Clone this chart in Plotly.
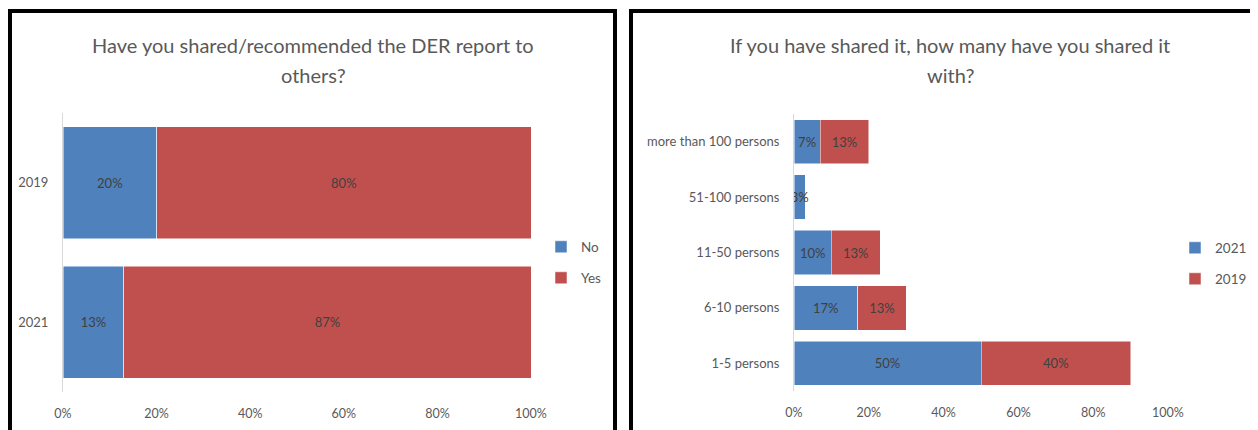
import plotly.graph_objects as go

# ---- data ----
years = ["2021", "2019"]                 # bottom to top
no_vals = [0.13, 0.20]
yes_vals = [0.87, 0.80]

groups = ["1-5 persons", "6-10 persons", "11-50 persons", "51-100 persons", "more than 100 persons"]
v2021 = [0.50, 0.17, 0.10, 0.03, 0.07]
v2019 = [0.40, 0.13, 0.13, None, 0.13]

title_left = ["Have you shared/recommended the DER report to", "others?"]
title_right = ["If you have shared it, how many have you shared it", "with?"]
xticks = [0, 0.2, 0.4, 0.6, 0.8, 1.0]
xticktext = ["0%", "20%", "40%", "60%", "80%", "100%"]

BLUE = "#4F81BD"
RED = "#C0504D"
GREY = "#595959"
LBL = "#404040"
FONT = "Lato, sans-serif"
OFF = 8                      # page body margin
W, H = 1258 - OFF, 430 - OFF


def pct(vals):
    return ["" if v is None else f"{round(v*100)}%" for v in vals]


def px(x):
    return (x - OFF) / W


def py(y):
    return 1 - (y - OFF) / H


fig = go.Figure()

bar_common = dict(orientation="h", textposition="inside", insidetextanchor="middle",
                  constraintext="none", textangle=0,
                  textfont=dict(color=LBL, size=13, family=FONT),
                  hoverinfo="skip")

fig.add_trace(go.Bar(y=years, x=no_vals, name="No", text=pct(no_vals), marker_color=BLUE,
                     xaxis="x", yaxis="y", legend="legend", **bar_common))
fig.add_trace(go.Bar(y=years, x=yes_vals, name="Yes", text=pct(yes_vals), marker_color=RED,
                     xaxis="x", yaxis="y", legend="legend2", **bar_common))
fig.add_trace(go.Bar(y=groups, x=v2021, name="2021", text=pct(v2021), marker_color=BLUE,
                     xaxis="x2", yaxis="y2", legend="legend3", **bar_common))
fig.add_trace(go.Bar(y=groups, x=v2019, name="2019", text=pct(v2019), marker_color=RED,
                     xaxis="x2", yaxis="y2", legend="legend4", **bar_common))
fig.update_traces(marker_line=dict(color="white", width=0.5))

xax = dict(range=[0, 1], tickvals=xticks, ticktext=xticktext, showgrid=False, zeroline=False,
           showline=False, ticks="", tickfont=dict(color=GREY, size=12.5, family=FONT),
           fixedrange=True, automargin=False, ticklabelstandoff=12)
yax = dict(showgrid=False, zeroline=False, showline=True, linecolor="#D9D9D9", linewidth=1,
           ticks="", ticklabelstandoff=11, tickfont=dict(color=GREY, size=13, family=FONT),
           fixedrange=True, automargin=False)

leg = dict(font=dict(color=GREY, size=13.5, family=FONT), bgcolor="rgba(0,0,0,0)",
           xanchor="left", yanchor="middle", itemwidth=30)

fig.update_layout(
    width=W, height=H, margin=dict(l=0, r=0, t=0, b=0, autoexpand=False),
    paper_bgcolor="white", plot_bgcolor="white",
    barmode="stack", bargap=0.2,
    font=dict(family=FONT, color=GREY),
    xaxis=dict(domain=[px(63), px(531)], anchor="y", **xax),
    yaxis=dict(domain=[py(392), py(113)], anchor="x", **yax),
    xaxis2=dict(domain=[px(794), px(1168)], anchor="y2", **xax),
    yaxis2=dict(domain=[py(391), py(114)], anchor="x2", **yax),
    legend=dict(x=px(541), y=py(247), **leg),
    legend2=dict(x=px(541), y=py(278), **leg),
    legend3=dict(x=px(1175), y=py(248), **leg),
    legend4=dict(x=px(1175), y=py(279), **leg),
    showlegend=True,
)

# titles (one annotation per line to match the line spacing)
for cx, lines in ((313, title_left), (950, title_right)):
    for i, line in enumerate(lines):
        fig.add_annotation(text=line, x=px(cx), y=py(45 + 30 * i), xref="paper", yref="paper",
                           showarrow=False, xanchor="center", yanchor="middle",
                           font=dict(size=20, color=GREY, family=FONT))

# panel borders
fig.add_shape(type="path", xref="paper", yref="paper",
              path=f"M {px(10)} {py(440)} L {px(10)} {py(11)} L {px(615)} {py(11)} L {px(615)} {py(440)}",
              line=dict(color="black", width=4))
fig.add_shape(type="path", xref="paper", yref="paper",
              path=f"M {px(631)} {py(440)} L {px(631)} {py(11)} L {px(1270)} {py(11)}",
              line=dict(color="black", width=4))

fig.write_html("out.html")
